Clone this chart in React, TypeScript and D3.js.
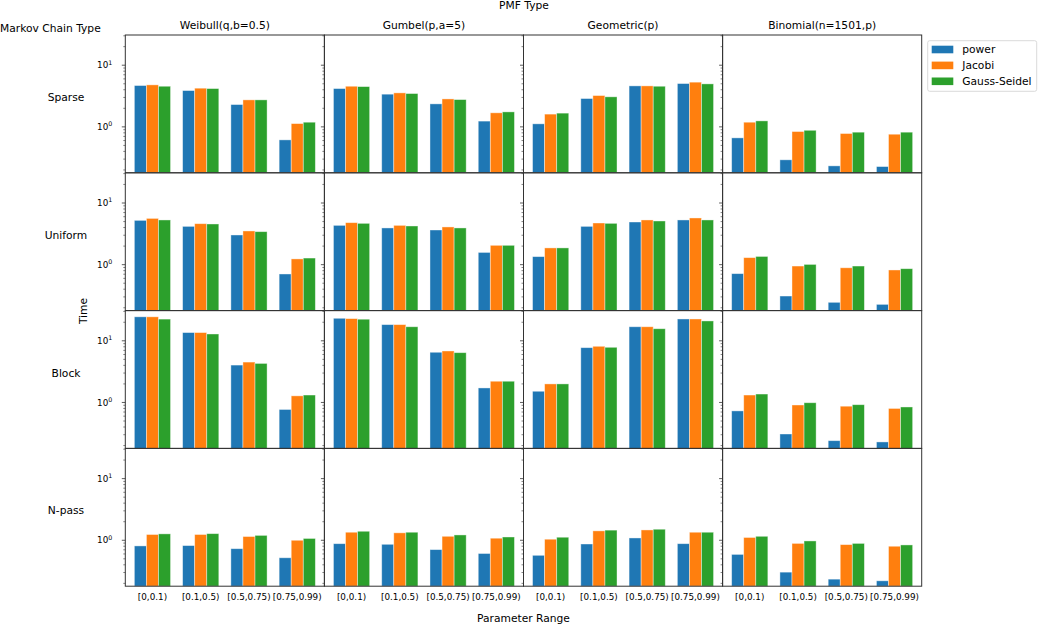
import React from "react";
import * as d3 from "d3";

const pmfTypes = ["Weibull(q,b=0.5)", "Gumbel(p,a=5)", "Geometric(p)", "Binomial(n=1501,p)"];
const chainTypes = ["Sparse", "Uniform", "Block", "N-pass"];
const ranges = ["[0,0.1)", "[0.1,0.5)", "[0.5,0.75)", "[0.75,0.99)"];
const methods = ["power", "Jacobi", "Gauss-Seidel"];
const colors = ["#1f77b4", "#ff7f0e", "#2ca02c"];
const yTicks = [1, 10];

// values: [pmf][range]
const sparsePower = [[4.68, 3.88, 2.3, 0.615], [4.18, 3.39, 2.36, 1.24], [1.12, 2.88, 4.62, 5.04], [0.663, 0.292, 0.233, 0.227]];
const sparseJacobi = [[4.8, 4.24, 2.74, 1.13], [4.56, 3.56, 2.84, 1.69], [1.61, 3.22, 4.62, 5.31], [1.19, 0.84, 0.78, 0.76]];
const sparseGS = [[4.56, 4.18, 2.74, 1.19], [4.5, 3.47, 2.77, 1.75], [1.67, 3.07, 4.56, 4.98], [1.25, 0.88, 0.82, 0.82]];

const uniformPower = [[5.23, 4.18, 3.03, 0.706], [4.34, 3.94, 3.65, 1.58], [1.35, 4.18, 4.92, 5.31], [0.715, 0.31, 0.245, 0.227]];
const uniformJacobi = [[5.63, 4.62, 3.52, 1.24], [4.8, 4.34, 4.09, 2.06], [1.87, 4.74, 5.31, 5.72], [1.3, 0.95, 0.89, 0.82]];
const uniformGS = [[5.31, 4.57, 3.43, 1.28], [4.68, 4.24, 3.94, 2.06], [1.87, 4.68, 5.11, 5.31], [1.36, 1.01, 0.95, 0.86]];

const blockPower = [[24.5, 13.6, 4.04, 0.77], [23.2, 18.3, 6.52, 1.72], [1.52, 7.74, 16.9, 22.6], [0.73, 0.308, 0.24, 0.229]];
const blockJacobi = [[24.5, 13.6, 4.52, 1.28], [22.9, 18.3, 6.84, 2.21], [2.0, 8.15, 16.9, 22.6], [1.32, 0.91, 0.87, 0.8]];
const blockGS = [[22.5, 12.9, 4.3, 1.32], [22.4, 16.9, 6.42, 2.21], [2.0, 7.85, 15.7, 21.0], [1.37, 0.99, 0.92, 0.845]];

const npassPower = [[0.81, 0.82, 0.73, 0.52], [0.88, 0.86, 0.705, 0.61], [0.57, 0.87, 1.09, 0.88], [0.59, 0.304, 0.234, 0.22]];
const npassJacobi = [[1.24, 1.24, 1.15, 1.0], [1.35, 1.32, 1.16, 1.08], [1.04, 1.42, 1.47, 1.35], [1.11, 0.89, 0.85, 0.8]];
const npassGS = [[1.27, 1.28, 1.2, 1.07], [1.4, 1.35, 1.22, 1.13], [1.12, 1.46, 1.51, 1.35], [1.16, 0.975, 0.89, 0.84]];

const allData = [
  [sparsePower, sparseJacobi, sparseGS],
  [uniformPower, uniformJacobi, uniformGS],
  [blockPower, blockJacobi, blockGS],
  [npassPower, npassJacobi, npassGS],
];

const W = 1038;
const H = 626;
const left0 = 125.3;
const top0 = 35;
const pw = 199.1;
const ph = 137.8;
const font = "DejaVu Sans, sans-serif";

export default function App() {
  const x = d3.scaleLinear().domain([-0.5625, 3.5625]).range([0, pw]);
  const y = d3.scaleLog().domain([Math.pow(10, -0.745), Math.pow(10, 1.49)]).range([ph, 0]);
  const bw = 0.25;
  const minor: number[] = [];
  [0.1, 1, 10].forEach((d) => {
    for (let k = 2; k <= 9; k++) {
      const v = d * k;
      if (v >= y.domain()[0] && v <= y.domain()[1]) minor.push(v);
    }
  });

  return (
    <svg width={W} height={H} style={{ position: "absolute", left: 0, top: 0, background: "#fff" }} fontFamily={font}>
      <text x={524} y={8.5} fontSize={10.7} textAnchor="middle">PMF Type</text>
      <text x={0} y={32} fontSize={10.7}>Markov Chain Type</text>
      <text x={523.5} y={622} fontSize={10.7} textAnchor="middle">Parameter Range</text>
      <text transform={`translate(87,311) rotate(-90)`} fontSize={10.7} textAnchor="middle">Time</text>
      {pmfTypes.map((p, c) => (
        <text key={p} x={left0 + c * pw + pw / 2} y={29} fontSize={10.7} textAnchor="middle">{p}</text>
      ))}
      {chainTypes.map((ct, r) => (
        <text key={ct} x={66} y={101 + r * ph} fontSize={10.7} textAnchor="middle">{ct}</text>
      ))}
      {allData.map((rowData, r) =>
        pmfTypes.map((p, c) => {
          const tx = left0 + c * pw;
          const ty = top0 + r * ph;
          return (
            <g key={`${r}-${c}`} transform={`translate(${tx},${ty})`}>
              {rowData.map((series, s) =>
                series[c].map((v, i) => {
                  const x0 = x(i + (s - 1) * bw - bw / 2);
                  const yy = y(v);
                  return (
                    <rect key={`${s}-${i}`} x={x0} y={yy} width={x(bw) - x(0)} height={ph - yy}
                      fill={colors[s]} stroke="#ffffff" strokeOpacity={0.5} strokeWidth={0.8} />
                  );
                })
              )}
              {yTicks.map((t) => (
                <line key={t} x1={-3.5} x2={0} y1={y(t)} y2={y(t)} stroke="#333" strokeWidth={0.8} />
              ))}
              {minor.map((t) => (
                <line key={t} x1={-2} x2={0} y1={y(t)} y2={y(t)} stroke="#333" strokeWidth={0.6} />
              ))}
              {c === 0 && yTicks.map((t) => (
                <text key={`l${t}`} x={-13} y={y(t) + 3.2} fontSize={8.8} textAnchor="end">
                  10
                  <tspan fontSize={6.3} dy={-3.8}>{Math.round(Math.log10(t))}</tspan>
                </text>
              ))}
              {r === 3 && ranges.map((lab, i) => (
                <text key={lab} x={x(i)} y={600.5 - ty} fontSize={8.8} textAnchor="middle">{lab}</text>
              ))}
              <rect x={0} y={0} width={pw} height={ph} fill="none" stroke="#333" strokeWidth={1} />
            </g>
          );
        })
      )}
      <g transform="translate(927.7,40.7)">
        <rect x={0} y={0} width={109} height={50.6} rx={2} fill="#fff" fillOpacity={0.8} stroke="#d0d0d0" strokeWidth={0.8} />
        {methods.map((m, i) => (
          <g key={m} transform={`translate(0,${8.8 + i * 15.9})`}>
            <rect x={4} y={-3.8} width={21.6} height={7.6} fill={colors[i]} />
            <text x={34.6} y={3.8} fontSize={10.7}>{m}</text>
          </g>
        ))}
      </g>
    </svg>
  );
}
